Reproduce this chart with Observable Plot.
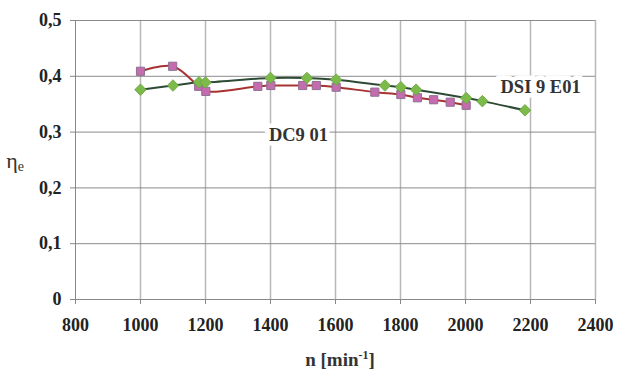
<!DOCTYPE html>
<html>
<head>
<meta charset="utf-8">
<script src="https://cdn.jsdelivr.net/npm/d3@7"></script>
<script src="https://cdn.jsdelivr.net/npm/@observablehq/plot@0.6"></script>
<style>
  html, body { margin: 0; padding: 0; background: #fff; }
</style>
</head>
<body>
<div id="chart"></div>
<script>
// Data
const dsiRpm = [1000, 1100, 1180, 1200, 1400, 1512, 1602, 1752, 1801, 1848, 2002, 2052, 2183];
const dsiEta = [0.376, 0.3835, 0.3895, 0.389, 0.397, 0.397, 0.394, 0.3835, 0.3805, 0.376, 0.361, 0.3555, 0.339];
const dcRpm = [1000, 1099, 1179, 1201, 1361, 1401, 1499, 1541, 1602, 1721, 1801, 1852, 1902, 1953, 2002];
const dcEta = [0.409, 0.418, 0.382, 0.373, 0.382, 0.3835, 0.3835, 0.3835, 0.3805, 0.3716, 0.3674, 0.3615, 0.358, 0.3536, 0.348];
const xTicks = [800, 1000, 1200, 1400, 1600, 1800, 2000, 2200, 2400];
const yTicks = [0, 0.1, 0.2, 0.3, 0.4, 0.5];
const seriesLabels = ["DC9 01", "DSI 9 E01"];
const labelRpm = [1486, 2231];
const labelEta = [0.294, 0.380];

const dsi = dsiRpm.map((x, i) => ({x, y: dsiEta[i]}));
const dc = dcRpm.map((x, i) => ({x, y: dcEta[i]}));
const labels = seriesLabels.map((t, i) => ({t, x: labelRpm[i], y: labelEta[i]}));

const font = "Liberation Serif";

const chart = Plot.plot({
  width: 617,
  height: 372,
  marginLeft: 75,
  marginRight: 22,
  marginTop: 20,
  marginBottom: 73,
  style: {fontFamily: font, fontSize: "17px", fontWeight: "bold", color: "#222", background: "#fff"},
  x: {domain: [800, 2400], label: null},
  y: {domain: [0, 0.5], label: null},
  marks: [
    Plot.gridX(xTicks.slice(1), {stroke: "#b8b8b8", strokeOpacity: 1, strokeWidth: 1.5}),
    Plot.gridY(yTicks.slice(1), {stroke: "#8a8a8a", strokeOpacity: 1, strokeWidth: 1}),
    Plot.axisX({ticks: xTicks, tickFormat: d => String(d), tickSize: 5, tickPadding: 14, stroke: "#888", fontSize: 18, fontWeight: "bold", fill: "#222", label: null}),
    Plot.axisY({ticks: yTicks, tickFormat: d => String(d).replace(".", ","), tickSize: 5, tickPadding: 9, stroke: "#888", fontSize: 18, fontWeight: "bold", fill: "#222", label: null}),
    Plot.ruleY([0], {stroke: "#888"}),
    Plot.ruleX([800], {stroke: "#888"}),
    Plot.line(dc, {x: "x", y: "y", curve: "catmull-rom", stroke: "#a83232", strokeWidth: 2}),
    Plot.line(dsi, {x: "x", y: "y", curve: "catmull-rom", stroke: "#2d4a35", strokeWidth: 2}),
    Plot.dot(dc, {x: "x", y: "y", symbol: "square", r: 4.6, fill: "#c76bb0", stroke: "#8d7090", strokeWidth: 1}),
    Plot.dot(dsi, {x: "x", y: "y", symbol: "diamond2", r: 5.2, fill: "#7cba4a", stroke: "#6aa03e", strokeWidth: 0.8}),
    Plot.text(labels, {x: "x", y: "y", text: "t", fontSize: 18.5, fontWeight: "bold", fill: "#333", stroke: "white", strokeWidth: 9, strokeLinejoin: "miter"})
  ]
});

const svg = d3.select(chart);
// y axis label: eta with subscript e
const yl = svg.append("text")
  .attr("x", 15).attr("y", 168)
  .attr("font-size", 22).attr("font-weight", "normal").attr("fill", "#333");
yl.append("tspan").text("η");
yl.append("tspan").attr("font-size", 14).attr("dy", 3).text("e");

// x axis label: n [min^-1]
const xl = svg.append("text")
  .attr("x", 340).attr("y", 366)
  .attr("text-anchor", "middle")
  .attr("font-size", 19).attr("font-weight", "bold").attr("fill", "#333");
xl.append("tspan").text("n [min");
xl.append("tspan").attr("font-size", 12).attr("dy", -7).text("-1");
xl.append("tspan").attr("dy", 7).text("]");

document.getElementById("chart").appendChild(chart);
</script>
</body>
</html>
